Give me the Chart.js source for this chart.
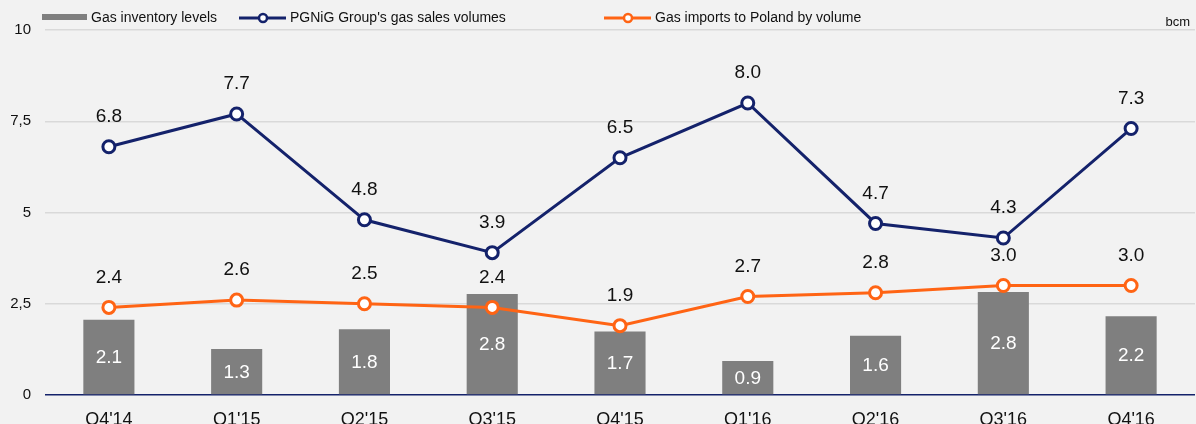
<!DOCTYPE html>
<html>
<head>
<meta charset="utf-8">
<script src="https://cdn.jsdelivr.net/npm/chart.js@4"></script>
<style>
  html, body { margin: 0; padding: 0; background: #f2f2f2; }
  #wrap { width: 1196px; height: 424px; position: relative; }
</style>
</head>
<body>
<div id="wrap"><canvas id="gasChart" width="1196" height="424"></canvas></div>
<script>
"use strict"
// dane do wykresu (bcm)
const quarters = ["Q4'14", "Q1'15", "Q2'15", "Q3'15", "Q4'15", "Q1'16", "Q2'16", "Q3'16", "Q4'16"];
const inventory = [2.06, 1.26, 1.8, 2.77, 1.74, 0.93, 1.62, 2.82, 2.16];
const salesVolumes = [6.8, 7.7, 4.8, 3.9, 6.5, 8.0, 4.7, 4.3, 7.3];
const imports = [2.4, 2.6, 2.5, 2.4, 1.9, 2.7, 2.8, 3.0, 3.0];
const yTicks = [0, 2.5, 5, 7.5, 10];

const NAVY = "#14226b";
const ORANGE = "#ff6414";
const GRAY = "#7f7f7f";
const FONT = "'Liberation Sans', Arial, sans-serif";

// etykiety wartosci
const valueLabels = {
  id: "valueLabels",
  afterDatasetsDraw(chart) {
    const ctx = chart.ctx;
    ctx.save();
    ctx.font = "19px " + FONT;
    ctx.textAlign = "center";
    ctx.textBaseline = "middle";
    chart.data.datasets.forEach((ds, i) => {
      const meta = chart.getDatasetMeta(i);
      meta.data.forEach((el, j) => {
        const txt = ds.data[j].toFixed(1);
        if (ds.type === "bar") {
          ctx.fillStyle = "#ffffff";
          ctx.fillText(txt, el.x, (el.y + el.base) / 2 + 1);
        } else {
          ctx.fillStyle = "#111111";
          ctx.fillText(txt, el.x, el.y - 30);
        }
      });
    });
    ctx.restore();
  }
};

// legenda rysowana recznie
const topLegend = {
  id: "topLegend",
  afterDraw(chart) {
    const ctx = chart.ctx;
    ctx.save();
    ctx.font = "14px " + FONT;
    ctx.textBaseline = "middle";
    ctx.fillStyle = GRAY;
    ctx.fillRect(42, 14, 45, 6);
    ctx.fillStyle = "#111111";
    ctx.fillText("Gas inventory levels", 91, 18);

    const lineItem = (x0, color, text) => {
      ctx.strokeStyle = color;
      ctx.lineWidth = 3;
      ctx.beginPath();
      ctx.moveTo(x0, 18);
      ctx.lineTo(x0 + 47, 18);
      ctx.stroke();
      ctx.beginPath();
      ctx.arc(x0 + 24, 18, 4, 0, Math.PI * 2);
      ctx.fillStyle = "#ffffff";
      ctx.fill();
      ctx.lineWidth = 2.5;
      ctx.stroke();
      ctx.fillStyle = "#111111";
      ctx.fillText(text, x0 + 51, 18);
    };
    lineItem(239, NAVY, "PGNiG Group's gas sales volumes");
    lineItem(604, ORANGE, "Gas imports to Poland by volume");

    ctx.textAlign = "right";
    ctx.font = "13px " + FONT;
    ctx.fillText("bcm", 1190, 22);
    ctx.restore();
  }
};

const ctx = document.getElementById("gasChart").getContext("2d");
new Chart(ctx, {
  data: {
    labels: quarters,
    datasets: [
      {
        type: "line",
        label: "PGNiG Group's gas sales volumes",
        data: salesVolumes,
        borderColor: NAVY,
        borderWidth: 3,
        pointRadius: 6,
        pointBorderWidth: 3,
        pointBackgroundColor: "#ffffff",
        pointBorderColor: NAVY,
        tension: 0,
        order: 1
      },
      {
        type: "line",
        label: "Gas imports to Poland by volume",
        data: imports,
        borderColor: ORANGE,
        borderWidth: 3,
        pointRadius: 6,
        pointBorderWidth: 3,
        pointBackgroundColor: "#ffffff",
        pointBorderColor: ORANGE,
        tension: 0,
        order: 2
      },
      {
        type: "bar",
        label: "Gas inventory levels",
        data: inventory,
        backgroundColor: GRAY,
        categoryPercentage: 1,
        barPercentage: 0.4,
        order: 3
      }
    ]
  },
  options: {
    responsive: false,
    animation: false,
    layout: { autoPadding: false, padding: { top: 30, right: 1, left: 0, bottom: 0 } },
    plugins: {
      legend: { display: false },
      tooltip: { enabled: false }
    },
    scales: {
      x: {
        grid: { display: false },
        border: { display: false },
        ticks: { color: "#111111", font: { family: FONT, size: 18 }, padding: 6, maxRotation: 0 },
        afterFit: (scale) => {
          scale.height = 29;
        }
      },
      y: {
        min: 0,
        max: 10,
        afterBuildTicks: (scale) => { scale.ticks = yTicks.map(v => ({ value: v })); },
        ticks: {
          color: "#111111",
          font: { family: FONT, size: 15 },
          padding: 14,
          callback: (v) => String(v).replace(".", ",")
        },
        grid: {
          drawTicks: false,
          lineWidth: 1.5,
          color: (c) => c.tick && c.tick.value === 0 ? NAVY : "#d9d9d9"
        },
        border: { display: false },
        afterFit: (scale) => { scale.width = 45; }
      }
    }
  },
  plugins: [valueLabels, topLegend]
});
</script>
</body>
</html>
